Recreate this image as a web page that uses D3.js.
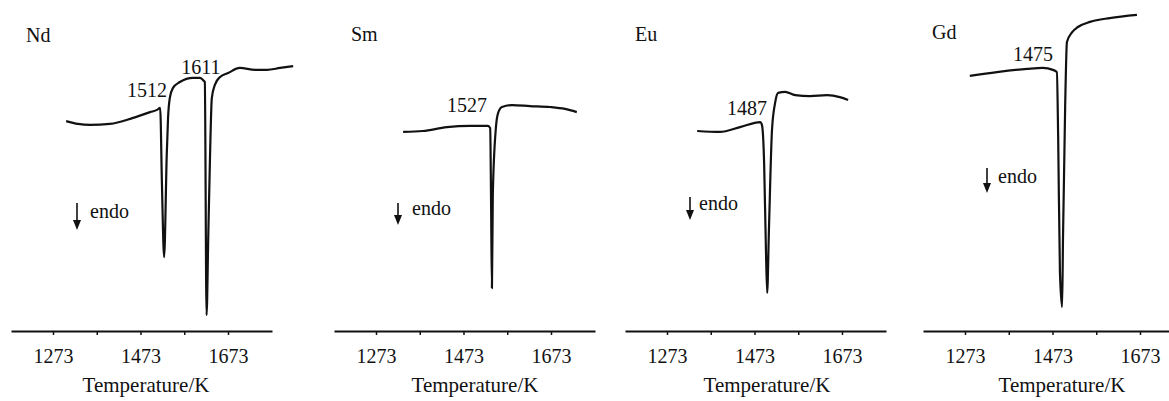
<!DOCTYPE html>
<html>
<head>
<meta charset="utf-8">
<script src="https://cdn.jsdelivr.net/npm/d3@7"></script>
<style>
  body { margin: 0; background: #fff; }
  svg { display: block; }
  text { font-family: "Liberation Serif", "Times New Roman", serif; fill: #111; }
</style>
</head>
<body>
<svg width="1169" height="401"></svg>
<script>
// DTA curves, temperature (K) vs signal (arbitrary units, 0 = axis)
const ndT = [1303, 1330, 1358, 1403, 1456, 1495, 1511, 1518, 1522, 1527, 1533, 1536, 1540, 1547, 1563, 1593, 1609, 1616, 1620, 1624, 1628, 1632, 1636, 1643, 1655, 1673, 1700, 1735, 1762, 1792, 1822];
const ndS = [65.6, 64.7, 64.4, 64.7, 66.6, 68.4, 69.1, 69.7, 46, 23.1, 55, 66.6, 72.8, 75.9, 77.8, 79.1, 79.1, 78.4, 77.8, 5, 30, 55, 72.8, 76.9, 79.4, 80.6, 82.2, 81.6, 81.6, 82.2, 82.8];

const smT = [1335, 1380, 1435, 1488, 1529, 1534, 1536, 1538, 1540, 1547, 1552, 1561, 1584, 1625, 1671, 1705, 1732];
const smS = [62.2, 62.5, 63.7, 64.1, 64.1, 63.4, 40.9, 13.4, 42.5, 63.4, 68.1, 70, 70.6, 70.3, 70, 69.4, 68.4];

const euT = [1342, 1394, 1440, 1486, 1490, 1495, 1499, 1502, 1506, 1513, 1520, 1527, 1543, 1566, 1600, 1639, 1668, 1687];
const euS = [62.5, 62.2, 63.7, 65.3, 64.4, 52.5, 26.3, 11.9, 31.6, 62.8, 71.2, 74.4, 74.7, 73.7, 73.4, 73.7, 73.1, 72.2];

const gdT = [1284, 1346, 1415, 1451, 1474, 1483, 1486, 1490, 1495, 1497, 1502, 1506, 1518, 1531, 1559, 1604, 1666];
const gdS = [79.7, 80.9, 81.9, 82.2, 81.6, 80.9, 60.3, 18.4, 7.5, 29, 70.6, 90.3, 93.4, 95, 96.6, 97.8, 98.8];

const tickValues = [1273, 1373, 1473, 1573, 1673];
const tickLabels = ["1273", "", "1473", "", "1673"];
const elements = ["Nd", "Sm", "Eu", "Gd"];
const peakLabels = [["1512", "1611"], ["1527"], ["1487"], ["1475"]];

// layout per panel (pixels inside the panel group)
const layout = [
  { gx: 11,  name: [15, 42], peaks: [[136, 97], [190, 74]], arrow: [66, 203, 230], endo: [79, 218], title: 135 },
  { gx: 334, name: [17, 41], peaks: [[133, 112]],           arrow: [64, 203, 225], endo: [78, 215], title: 141 },
  { gx: 625, name: [10, 41], peaks: [[122, 115]],           arrow: [65, 197, 220], endo: [74, 210], title: 142 },
  { gx: 923, name: [9, 39],  peaks: [[110, 61]],            arrow: [64, 168, 193], endo: [75, 183], title: 139 }
];

const curves = [[ndT, ndS], [smT, smS], [euT, euS], [gdT, gdS]];

const svg = d3.select("svg");

const x = d3.scaleLinear().domain([1177, 1773.6]).range([0, 261]);
const y = d3.scaleLinear().domain([0, 100]).range([331, 11]);

const line = d3.line()
  .x((d) => x(d[0]))
  .y((d) => y(d[1]))
  .curve(d3.curveMonotoneX);

elements.forEach((el, i) => {
  const L = layout[i];
  const g = svg.append("g").attr("transform", `translate(${L.gx},0)`);

  // x axis
  const axis = g.append("g")
    .attr("transform", `translate(0,${y(0)})`)
    .call(d3.axisBottom(x)
      .tickValues(tickValues)
      .tickFormat((d, j) => tickLabels[j])
      .tickSize(4)
      .tickSizeOuter(0)
      .tickPadding(14));
  axis.select(".domain").attr("stroke", "#111").attr("stroke-width", 2);
  axis.selectAll(".tick line").attr("stroke", "#111").attr("stroke-width", 1.5);
  axis.selectAll(".tick text")
    .attr("font-family", "Liberation Serif, serif")
    .attr("font-size", 20)
    .attr("fill", "#111");

  g.append("text")
    .attr("x", L.title).attr("y", 392)
    .attr("text-anchor", "middle")
    .attr("font-size", 21)
    .text("Temperature/K");

  // curve
  const [ts, ss] = curves[i];
  g.append("path")
    .datum(ts.map((t, k) => [t, ss[k]]))
    .attr("fill", "none")
    .attr("stroke", "#111")
    .attr("stroke-width", 2.2)
    .attr("stroke-linejoin", "round")
    .attr("d", line);

  // labels
  g.append("text")
    .attr("x", L.name[0]).attr("y", L.name[1])
    .attr("font-size", 20)
    .text(el);

  peakLabels[i].forEach((p, k) => {
    g.append("text")
      .attr("x", L.peaks[k][0]).attr("y", L.peaks[k][1])
      .attr("text-anchor", "middle")
      .attr("font-size", 20)
      .text(p);
  });

  // endo arrow
  const [ax, ay1, ay2] = L.arrow;
  g.append("line")
    .attr("x1", ax).attr("x2", ax)
    .attr("y1", ay1).attr("y2", ay2 - 8)
    .attr("stroke", "#111")
    .attr("stroke-width", 1.6);
  g.append("path")
    .attr("d", `M${ax - 4},${ay2 - 10}L${ax + 4},${ay2 - 10}L${ax},${ay2}Z`)
    .attr("fill", "#111");

  g.append("text")
    .attr("x", L.endo[0]).attr("y", L.endo[1])
    .attr("font-size", 20)
    .text("endo");
});
</script>
</body>
</html>
